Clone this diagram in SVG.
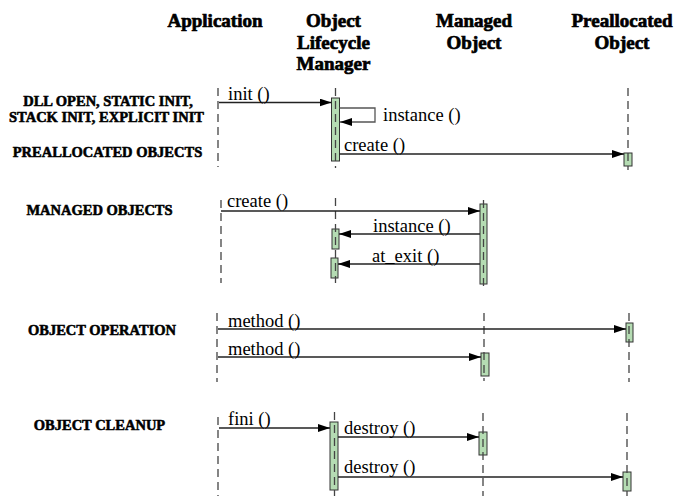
<svg xmlns="http://www.w3.org/2000/svg" width="675" height="496" viewBox="0 0 675 496">
<defs>
<marker id="ah" markerUnits="userSpaceOnUse" markerWidth="13" markerHeight="9" refX="12" refY="4" orient="auto">
<path d="M0,0 L12,4 L0,8 z" fill="#000"/>
</marker>
<style>
text{font-family:'Liberation Serif','Times New Roman','DejaVu Serif',serif}
.hdr{font-weight:bold;font-size:19px;fill:#000;stroke:#000;stroke-width:0.7;text-anchor:middle}
.sec{font-weight:bold;font-size:14.5px;fill:#000;stroke:#000;stroke-width:0.55;text-anchor:middle}
.msg{font-size:18.5px;fill:#000}
.life{stroke:#444;stroke-width:1.3;stroke-dasharray:8 5;fill:none}
.bar{fill:#b5dcb3;stroke:#333;stroke-width:1}
.arr{stroke:#222;stroke-width:1.3;fill:none;marker-end:url(#ah)}
.self{stroke:#555;stroke-width:1.3;fill:none;marker-end:url(#ah)}
</style>
</defs>
<rect width="675" height="496" fill="#fff"/>

<g id="headers">
<g id="app-header"><text class="hdr" x="215" y="27">Application</text></g>
<g id="olm-header"><text class="hdr" x="333.5" y="27">Object</text><text class="hdr" x="333.5" y="48.5">Lifecycle</text><text class="hdr" x="333.5" y="70">Manager</text></g>
<g id="managed-header"><text class="hdr" x="474" y="27">Managed</text><text class="hdr" x="474" y="49">Object</text></g>
<g id="prealloc-header"><text class="hdr" x="622" y="27">Preallocated</text><text class="hdr" x="622" y="49">Object</text></g>
</g>

<g id="section-labels">
<text class="sec" x="108" y="106">DLL OPEN, STATIC INIT,</text>
<text class="sec" x="106.5" y="122">STACK INIT, EXPLICIT INIT</text>
<text class="sec" x="107.5" y="157">PREALLOCATED OBJECTS</text>
<text class="sec" x="99.5" y="215">MANAGED OBJECTS</text>
<text class="sec" x="102" y="335">OBJECT OPERATION</text>
<text class="sec" x="99.5" y="430">OBJECT CLEANUP</text>
</g>

<g id="activations">
<rect class="bar" x="331.5" y="98" width="8" height="63"/>
<rect class="bar" x="624" y="153" width="8" height="13"/>
<rect class="bar" x="480" y="204" width="7" height="80"/>
<rect class="bar" x="332" y="229" width="7" height="20"/>
<rect class="bar" x="331" y="258" width="7" height="20"/>
<rect class="bar" x="626" y="323" width="7" height="19"/>
<rect class="bar" x="481" y="353" width="8" height="23"/>
<rect class="bar" x="330" y="422" width="8" height="68"/>
<rect class="bar" x="479" y="432" width="8" height="23"/>
<rect class="bar" x="623" y="472" width="8" height="19"/>
</g>

<g id="lifelines">
<line class="life" x1="218" y1="88" x2="218" y2="167"/>
<line class="life" x1="335.5" y1="88" x2="335.5" y2="168"/>
<line class="life" x1="628" y1="88" x2="628" y2="170"/>
<line class="life" x1="221" y1="200" x2="221" y2="283"/>
<line class="life" x1="335.5" y1="198" x2="335.5" y2="283"/>
<line class="life" x1="483.5" y1="200" x2="483.5" y2="286"/>
<line class="life" x1="217" y1="313" x2="217" y2="382"/>
<line class="life" x1="484" y1="313" x2="484" y2="381"/>
<line class="life" x1="629" y1="313" x2="629" y2="382"/>
<line class="life" x1="218" y1="417" x2="218" y2="496"/>
<line class="life" x1="334.5" y1="412" x2="334.5" y2="496"/>
<line class="life" x1="483" y1="413" x2="483" y2="496"/>
<line class="life" x1="627" y1="413" x2="627" y2="496"/>
</g>

<g id="connectors">
<line class="arr" x1="219" y1="102.5" x2="331.5" y2="102.5"/>
<polyline class="self" points="339.5,108 375,108 375,122 340,122"/>
<line class="arr" x1="339.5" y1="154" x2="624" y2="154"/>
<line class="arr" x1="221" y1="211" x2="480" y2="211"/>
<line class="arr" x1="480" y1="234" x2="339" y2="234"/>
<line class="arr" x1="480" y1="264" x2="338" y2="264"/>
<line class="arr" x1="218" y1="329" x2="626" y2="329"/>
<line class="arr" x1="218" y1="357" x2="481" y2="357"/>
<line class="arr" x1="219" y1="428" x2="330" y2="428"/>
<line class="arr" x1="338" y1="437" x2="479" y2="437"/>
<line class="arr" x1="338" y1="477" x2="623" y2="477"/>
</g>

<g id="message-labels">
<text class="msg" x="228" y="100">init ()</text>
<text class="msg" x="383" y="121">instance ()</text>
<text class="msg" x="344" y="151">create ()</text>
<text class="msg" x="227" y="207">create ()</text>
<text class="msg" x="373" y="232">instance ()</text>
<text class="msg" x="372" y="262">at_exit ()</text>
<text class="msg" x="228" y="327">method ()</text>
<text class="msg" x="228" y="355">method ()</text>
<text class="msg" x="228" y="425">fini ()</text>
<text class="msg" x="344" y="434">destroy ()</text>
<text class="msg" x="344" y="473">destroy ()</text>
</g>
</svg>
